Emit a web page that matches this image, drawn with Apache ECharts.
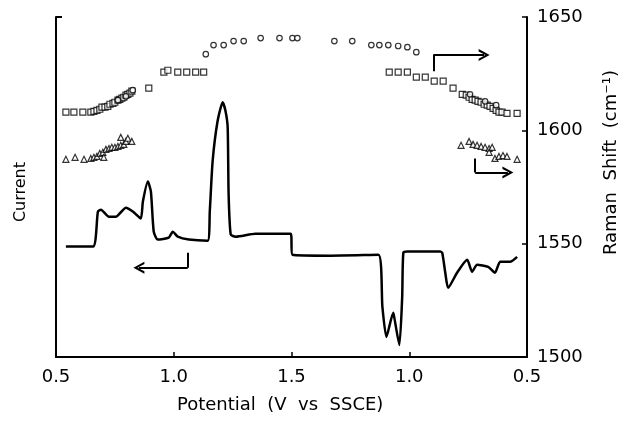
<!DOCTYPE html>
<html>
<head>
<meta charset="utf-8">
<script src="https://cdn.jsdelivr.net/npm/echarts@6/dist/echarts.min.js"></script>
<style>html,body{margin:0;padding:0;background:#fff;}#c{width:629px;height:433px;}</style>
</head>
<body>
<div id="c"></div>
<script>
// x = sweep coordinate: 0.5 -> 1.5 V (forward), then 1.5 -> 2.5 means 1.5 -> 0.5 V (reverse)
var xTicks = [0.5, 1.0, 1.5, 2.0, 2.5];
var xTickLabels = ['0.5', '1.0', '1.5', '1.0', '0.5'];
var ramanTicks = [1500, 1550, 1600, 1650];

// Current trace (arbitrary units)
var currentTrace = [
  [0.542,48.7],[0.657,48.7],[0.678,64.2],[0.691,65.0],[0.725,61.9],[0.754,61.9],
  [0.797,65.9],[0.826,64.2],[0.860,61.1],[0.869,68.6],[0.890,77.4],[0.903,73.0],
  [0.915,55.3],[0.932,51.8],[0.979,52.7],[0.996,55.3],[1.017,53.1],[1.064,51.8],
  [1.144,51.3],[1.153,64.2],[1.165,86.3],[1.186,104.0],[1.208,112.4],[1.220,108.4],
  [1.229,101.3],[1.233,71.7],[1.242,54.0],[1.263,53.1],[1.347,54.4],[1.496,54.4],
  [1.504,45.1],[1.665,44.7],[1.869,45.1],[1.886,22.1],[1.903,8.8],[1.932,19.5],
  [1.936,17.7],[1.958,5.3],[1.970,26.5],[1.975,46.0],[1.992,46.5],[2.131,46.5],
  [2.140,46.0],[2.153,37.2],[2.165,30.5],[2.203,37.2],[2.246,42.9],[2.267,37.6],
  [2.288,40.7],[2.335,39.8],[2.364,37.2],[2.386,42.0],[2.428,42.0],[2.458,44.2]
];

// Raman shift band (squares)
var squarePoints = [
  [0.542,1608.0],[0.576,1608.0],[0.614,1608.0],[0.648,1608.0],
  [0.661,1608.4],[0.674,1608.8],[0.686,1609.3],[0.695,1610.2],[0.708,1610.2],
  [0.720,1610.6],[0.729,1611.5],[0.742,1611.9],[0.750,1612.4],[0.763,1613.3],
  [0.771,1613.7],[0.780,1614.2],[0.788,1614.6],[0.797,1615.5],[0.805,1615.9],
  [0.814,1616.4],[0.822,1617.3],[0.894,1618.6],
  [0.958,1625.7],[0.975,1626.5],[1.017,1625.7],[1.055,1625.7],[1.093,1625.7],[1.127,1625.7],
  [1.915,1625.7],[1.953,1625.7],[1.992,1625.7],[2.030,1623.5],[2.068,1623.5],
  [2.106,1621.7],[2.144,1621.7],[2.186,1618.6],[2.225,1615.9],
  [2.242,1615.5],[2.254,1614.6],[2.267,1613.7],[2.280,1613.3],[2.292,1612.8],
  [2.305,1612.4],[2.318,1611.5],[2.331,1611.1],[2.343,1610.6],[2.356,1609.7],
  [2.369,1608.8],[2.381,1608.0],[2.394,1608.0],[2.415,1607.5],[2.458,1607.5]
];

// Raman shift band (circles)
var circlePoints = [
  [0.763,1613.3],[0.797,1615.0],[0.826,1617.7],
  [1.136,1633.6],[1.169,1637.6],[1.212,1637.6],[1.254,1639.4],[1.297,1639.4],
  [1.369,1640.7],[1.449,1640.7],[1.504,1640.7],[1.525,1640.7],
  [1.682,1639.4],[1.758,1639.4],[1.839,1637.6],[1.873,1637.6],[1.911,1637.6],
  [1.953,1637.2],[1.992,1636.7],[2.030,1634.5],
  [2.258,1615.9],[2.322,1612.8],[2.369,1611.1]
];

// Raman shift band (triangles)
var trianglePoints = [
  [0.542,1587.2],[0.581,1588.1],[0.619,1587.2],
  [0.648,1587.6],[0.661,1588.1],[0.674,1588.5],[0.686,1589.8],[0.699,1590.3],
  [0.703,1588.1],[0.712,1591.6],[0.725,1592.0],[0.737,1592.5],[0.750,1592.5],
  [0.763,1592.9],[0.775,1593.4],[0.788,1593.8],[0.775,1596.9],[0.797,1595.1],
  [0.805,1596.5],[0.822,1595.1],
  [2.220,1593.4],[2.254,1595.1],[2.271,1593.8],[2.288,1593.4],[2.305,1592.9],
  [2.322,1592.5],[2.339,1592.0],[2.352,1592.5],[2.339,1590.3],
  [2.364,1587.6],[2.381,1588.5],[2.398,1588.9],[2.415,1588.5],[2.458,1587.2]
];

// Arrow annotations (data coordinates): [xStart, yStart, xCorner, yCorner, xEnd]
var currentArrow = [1.059, 46.0, 1.059, 39.4, 0.852];
var topRamanArrow = [2.102, 1626.1, 2.102, 1633.2, 2.318];
var lowRamanArrow = [2.280, 1587.6, 2.280, 1581.4, 2.419];

var chevron = 'path://M0,10 L6,0 L12,10 L9.6,10 L6,3.8 L2.4,10 Z';
function arrowLines(a) {
  return [
    [{coord: [a[0], a[1]], symbol: 'none'}, {coord: [a[2], a[3]], symbol: 'none'}],
    [{coord: [a[2], a[3]], symbol: 'none'}, {coord: [a[4], a[3]], symbol: chevron, symbolSize: [12, 11]}]
  ];
}

var FONT = '"DejaVu Sans", Verdana, sans-serif';
var chart = echarts.init(document.getElementById('c'), null, {renderer: 'canvas'});
var markerStyle = {color: '#fff', borderColor: '#000', borderWidth: 1.2};

chart.setOption({
  animation: false,
  backgroundColor: '#fff',
  grid: {left: 56, right: 102, top: 17, bottom: 76, containLabel: false},
  xAxis: {
    type: 'value', min: 0.5, max: 2.5, interval: 0.5,
    axisLine: {show: true, lineStyle: {color: '#000', width: 2}},
    axisTick: {show: true, inside: true, length: 5, lineStyle: {color: '#000', width: 1.5}},
    splitLine: {show: false},
    axisLabel: {
      margin: 11, color: '#000', fontSize: 18, fontFamily: FONT,
      formatter: function (v) {
        var i = xTicks.indexOf(Math.round(v * 10) / 10);
        return i >= 0 ? xTickLabels[i] : '';
      }
    }
  },
  yAxis: [
    {
      type: 'value', min: 0, max: 150, position: 'left',
      axisLine: {show: true, lineStyle: {color: '#000', width: 2}},
      axisTick: {show: false}, axisLabel: {show: false}, splitLine: {show: false}
    },
    {
      type: 'value', min: ramanTicks[0], max: ramanTicks[ramanTicks.length - 1], interval: 50,
      position: 'right',
      axisLine: {show: true, lineStyle: {color: '#000', width: 2}},
      axisTick: {show: true, inside: true, length: 5, lineStyle: {color: '#000', width: 1.5}},
      splitLine: {show: false},
      axisLabel: {margin: 10, color: '#000', fontSize: 18, fontFamily: FONT,
        formatter: function (v) { return String(v); }}
    }
  ],
  series: [
    {
      type: 'line', yAxisIndex: 0, data: currentTrace, symbol: 'none', smooth: 0.2,
      lineStyle: {color: '#000', width: 2.5},
      markLine: {silent: true, animation: false, label: {show: false},
        lineStyle: {color: '#000', width: 2, type: 'solid'}, itemStyle: {color: '#000'},
        data: arrowLines(currentArrow)}
    },
    {
      type: 'scatter', yAxisIndex: 1, data: squarePoints, symbol: 'rect', symbolSize: 6,
      itemStyle: markerStyle
    },
    {
      type: 'scatter', yAxisIndex: 1, data: circlePoints, symbol: 'circle', symbolSize: 5.5,
      itemStyle: markerStyle
    },
    {
      type: 'scatter', yAxisIndex: 1, data: trianglePoints, symbol: 'triangle', symbolSize: 6,
      itemStyle: markerStyle,
      markLine: {silent: true, animation: false, label: {show: false},
        lineStyle: {color: '#000', width: 2, type: 'solid'}, itemStyle: {color: '#000'},
        data: arrowLines(topRamanArrow).concat(arrowLines(lowRamanArrow))}
    }
  ],
  graphic: [
    {type: 'line', silent: true, shape: {x1: 56, y1: 17, x2: 62, y2: 17},
      style: {stroke: '#000', lineWidth: 2}},
    {type: 'text', left: 13, top: 162, rotation: Math.PI / 2,
      style: {text: 'Current', fontSize: 16, fontFamily: FONT, fill: '#000'}},
    {type: 'text', left: 177, top: 396,
      style: {text: 'Potential  (V  vs  SSCE)', fontSize: 18, fontFamily: FONT, fill: '#000'}},
    {type: 'text', left: 602, top: 70, rotation: Math.PI / 2,
      style: {text: 'Raman  Shift  (cm\u207B\u00B9)', fontSize: 18, fontFamily: FONT, fill: '#000'}}
  ]
});
</script>
</body>
</html>
